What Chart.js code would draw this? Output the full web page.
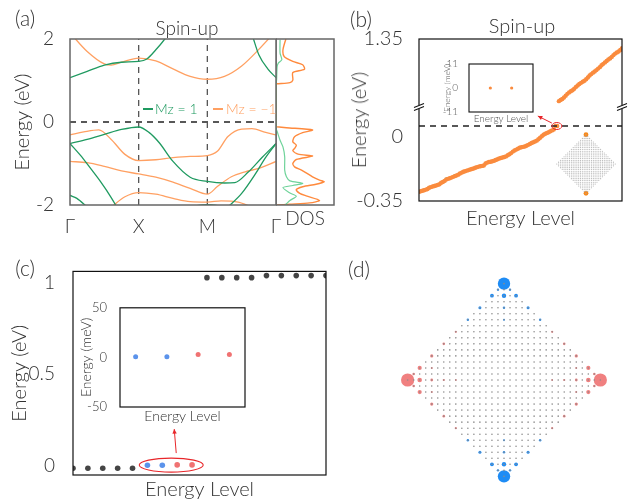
<!DOCTYPE html>
<html>
<head>
<meta charset="utf-8">
<script src="https://cdn.jsdelivr.net/npm/chart.js@4.4.1/dist/chart.umd.min.js"></script>
<style>
  body { margin: 0; background: #fff; }
  #fig { position: relative; width: 633px; height: 504px; overflow: hidden; font-family: Lato, "Noto Sans", sans-serif; font-weight: 300; color: #333; }
  .box { position: absolute; }
  .lbl { position: absolute; white-space: nowrap; line-height: 1; }
</style>
</head>
<body>
<div id="fig">
  <div class="box" style="left:0;top:0"><canvas id="cBand" width="290" height="235"></canvas></div>
  <div class="box" style="left:276px;top:0"><canvas id="cDos" width="62" height="235"></canvas></div>
  <div class="box" style="left:330px;top:0"><canvas id="cLevels" width="303" height="235"></canvas></div>
  <div class="box" style="left:440px;top:55px"><canvas id="cInsetB" width="100" height="75"></canvas></div>
  <div class="box" style="left:550px;top:128px"><canvas id="cFlakeB" width="72" height="72"></canvas></div>
  <div class="box" style="left:0;top:250px"><canvas id="cSpec" width="340" height="254"></canvas></div>
  <div class="box" style="left:70px;top:295px"><canvas id="cInsetC" width="180" height="130"></canvas></div>
  <div class="box" style="left:392px;top:268px"><canvas id="cFlake" width="224" height="224"></canvas></div>
</div>
<script>
// ---------- (a) bands along Γ-X-M-Γ, k in path units, energies in eV
const kTicks = [0, 1, 2, 3];
const kLabels = ['Γ', 'X', 'M', 'Γ'];

const greenBands = [
  [[0,1.07],[0.25,1.22],[0.5,1.37],[0.75,1.44],[1,1.46],[1.12,1.52],[1.25,1.74],[1.38,2.0],[1.5,2.3]],
  [[2.5,2.6],[2.63,2.2],[2.75,1.62],[2.88,1.28],[3,1.07]],
  [[0,-0.52],[0.25,-0.42],[0.5,-0.3],[0.75,-0.18],[1,-0.12],[1.15,-0.25],[1.3,-0.5],[1.5,-0.95],[1.75,-1.33],[2,-1.43],[2.25,-1.47],[2.4,-1.46],[2.6,-1.2],[2.8,-0.85],[3,-0.52]],
  [[0,-0.52],[0.15,-0.8],[0.3,-1.12],[0.45,-1.45],[0.6,-1.82],[0.7,-2.1]],
  [[2.3,-2.05],[2.5,-1.72],[2.7,-1.25],[2.85,-0.85],[3,-0.52]],
  [[0,-1.77],[0.1,-1.84],[0.25,-2.05]],
  [[1.75,-2.04],[2,-1.99],[2.25,-2.04]]
];
const orangeBands = [
  [[0,2.15],[0.25,1.7],[0.5,1.4],[0.6,1.37],[0.75,1.44],[1,1.54],[1.25,1.47],[1.5,1.28],[1.75,1.1],[2,1.03],[2.25,1.1],[2.5,1.35],[2.75,1.75],[3,2.2]],
  [[0,-0.31],[0.2,-0.24],[0.42,-0.19],[0.6,-0.42],[0.8,-0.78],[1,-0.93],[1.25,-0.91],[1.5,-0.86],[1.75,-0.83],[2,-0.81],[2.15,-0.7],[2.3,-0.35],[2.5,-0.17],[2.65,-0.16],[2.85,-0.25],[3,-0.31]],
  [[0,-0.95],[0.25,-0.98],[0.5,-1.07],[0.75,-1.18],[1,-1.25],[1.25,-1.33],[1.5,-1.45],[1.75,-1.6],[2,-1.74],[2.15,-1.55],[2.35,-1.32],[2.55,-1.2],[2.75,-1.12],[3,-0.95]],
  [[0.6,-2.05],[0.8,-1.8],[1,-1.7],[1.25,-1.74],[1.5,-1.84],[1.75,-1.92],[2,-1.93],[2.2,-1.9],[2.45,-1.93],[2.65,-2.05]]
];

// DOS as [energy, density] pairs (density in arbitrary units 0..1)
const dosOrange = [
  [2.0,0.17],[1.74,0.12],[1.58,0.14],[1.46,0.29],[1.38,0.46],[1.27,0.49],[1.19,0.29],[1.01,0.29],[0.95,0.24],[0.92,0.01],[0.91,0],
  [-0.11,0],[-0.113,0.01],[-0.137,0.18],[-0.193,0.63],[-0.258,0.46],[-0.355,0.32],[-0.476,0.29],[-0.556,0.35],[-0.637,0.32],
  [-0.693,0.29],[-0.774,0.38],[-0.822,0.63],[-0.903,0.35],[-1.0,0.29],[-1.08,0.32],[-1.16,0.44],[-1.32,0.63],[-1.4,0.75],
  [-1.44,0.83],[-1.5,0.69],[-1.56,0.46],[-1.63,0.35],[-1.72,0.41],[-1.78,0.52],[-1.89,0.75],[-1.95,0.58],[-1.98,0.24],[-2.0,0.01]
];
const dosGreen = [
  [1.98,0.07],[1.66,0.07],[1.5,0.1],[1.42,0.04],[1.34,0.02],[1.01,0.01],[0.89,0],
  [-0.15,0],[-0.23,0.02],[-0.44,0.07],[-0.6,0.12],[-0.84,0.15],[-1.16,0.15],[-1.32,0.18],[-1.42,0.24],
  [-1.48,0.46],[-1.53,0.29],[-1.58,0.12],[-1.71,0.24],[-1.79,0.35],[-1.89,0.24],[-1.97,0.18],[-2.01,0.15]
];

// ---------- (b) flake levels (index, eV), broken energy axis
const lowLevels = [
  -0.300,-0.297,-0.294,-0.291,-0.288,-0.284,-0.277,-0.274,-0.271,-0.268,
  -0.265,-0.262,-0.258,-0.250,-0.246,-0.240,-0.232,-0.229,-0.226,-0.222,
  -0.218,-0.214,-0.210,-0.206,-0.200,-0.195,-0.190,-0.187,-0.184,-0.181,
  -0.178,-0.175,-0.172,-0.168,-0.165,-0.162,-0.160,-0.158,-0.156,-0.145,
  -0.140,-0.137,-0.135,-0.133,-0.130,-0.126,-0.122,-0.118,-0.115,-0.112,
  -0.109,-0.106,-0.100,-0.094,-0.088,-0.080,-0.074,-0.069,-0.064,-0.059,
  -0.056,-0.054,-0.052,-0.048,-0.043,-0.038,-0.033,-0.029,-0.025,-0.020,
  -0.012,-0.004,0.004,0.012,0.018,0.022,0.026,0.031,0.036,0.041
];
const zeroModeIdx = [80, 81];
const fermiLevel = 0.06;
const highStart = 82;
const highLevels = [
  1.010,1.016,1.022,1.030,1.040,1.050,1.058,1.064,1.070,1.078,
  1.088,1.096,1.104,1.110,1.116,1.122,1.130,1.140,1.150,1.158,
  1.166,1.172,1.180,1.188,1.196,1.206,1.214,1.222,1.230,1.238,
  1.244,1.252,1.262,1.270,1.276,1.282,1.290,1.300
];
const greenLowIdx = [3, 6, 16, 21, 26, 36, 45];
const greenHighIdx = [100, 112];
const insetBX = [1, 2];
const insetBmeV = [0, 0];

// ---------- (c) levels of the second model
const cGrayIdx = [0, 1, 2, 3, 4, 9, 10, 11, 12, 13, 14, 15, 16, 17];
const cGrayE = [-0.012, -0.012, -0.012, -0.012, -0.012, 1.026, 1.026, 1.026, 1.026, 1.037, 1.037, 1.037, 1.037, 1.037];
const cBlueIdx = [5, 6];
const cBlueE = [0.004, 0.004];
const cRedIdx = [7, 8];
const cRedE = [0.006, 0.006];
const insetCBlueX = [0.5, 1.5];
const insetCBluemeV = [0.6, 0.6];
const insetCRedX = [2.5, 3.5];
const insetCRedmeV = [2.8, 2.8];

// ---------- (d) weights on the diamond flake: [col, row, radius]
const flakeHalf = 16;
const blueTop = [[0,16,6.2],[-1,15,1.2],[1,15,1.2],[-2,14,1.9],[0,14,2.2],[2,14,1.9],[-4,12,1.5],[0,12,1.2],[4,12,1.5],[-6,10,1.2],[6,10,1.2],[0,10,1]];
const redLeft = [[-16,0,6.6],[-15,-1,1.3],[-15,1,1.3],[-14,-2,2.1],[-14,0,2.3],[-14,2,2.1],[-12,-4,1.6],[-12,0,1.4],[-12,4,1.6],[-12,-2,1],[-12,2,1],[-10,-6,1.3],[-10,0,1.1],[-10,6,1.3],[-8,-8,1.1],[-8,0,0.9],[-8,8,1.1]];

const GREEN = '#1f9a60', ORANGE = '#ffa062';
const DOS_GREEN = '#6fd39a', DOS_ORANGE = '#ff8a3d';
const PT_ORANGE = '#fa8b3e', PT_GREEN = '#17905a';
const BLUE = '#5b93eb', RED = '#f07272', DARK = '#454545';

Chart.defaults.font.family = 'Lato, "Noto Sans", sans-serif';
Chart.defaults.font.weight = 300;
Chart.defaults.color = '#333';
Chart.defaults.animation = false;
Chart.defaults.plugins.legend.display = false;
Chart.defaults.plugins.tooltip.enabled = false;

const pts = arr => arr.map(([x, y]) => ({ x, y }));
const fixW = w => s => { s.width = w; };
const fixH = h => s => { s.height = h; };
const setTicks = vals => s => { s.ticks = vals.map(v => ({ value: v })); };
const plain = v => String(v);
const noGrid = { grid: { display: false }, border: { display: false } };

const line = (pairs, color, w = 1.3, smooth = 'monotone') => ({
  data: pts(pairs), showLine: true, borderColor: color, borderWidth: w, pointRadius: 0,
  cubicInterpolationMode: smooth === 'monotone' ? 'monotone' : 'default', tension: smooth === 'monotone' ? 0 : 0.25, clip: 0
});
const guide = (pairs, color, axis) => ({
  data: pts(pairs), showLine: true, borderColor: color, borderWidth: 1.3, borderDash: [6, 5],
  pointRadius: 0, clip: 0, yAxisID: axis || 'y'
});
const dots = (xs, ys, color, r, axis) => ({
  data: xs.map((x, i) => ({ x, y: ys[i] })), backgroundColor: color, borderWidth: 0,
  pointRadius: r, clip: 0, yAxisID: axis || 'y'
});

function frame(color, w) {
  return {
    id: 'frame',
    afterDatasetsDraw(c) {
      const a = c.chartArea, ctx = c.ctx;
      ctx.save();
      ctx.strokeStyle = color; ctx.lineWidth = w;
      ctx.strokeRect(a.left, a.top, a.right - a.left, a.bottom - a.top);
      ctx.restore();
    }
  };
}

function arrow(ctx, x0, y0, x1, y1, color) {
  const ang = Math.atan2(y1 - y0, x1 - x0);
  ctx.strokeStyle = color; ctx.fillStyle = color; ctx.lineWidth = 1;
  ctx.beginPath(); ctx.moveTo(x0, y0); ctx.lineTo(x1, y1); ctx.stroke();
  ctx.beginPath();
  ctx.moveTo(x1, y1);
  ctx.lineTo(x1 - 5 * Math.cos(ang - 0.45), y1 - 5 * Math.sin(ang - 0.45));
  ctx.lineTo(x1 - 5 * Math.cos(ang + 0.45), y1 - 5 * Math.sin(ang + 0.45));
  ctx.closePath(); ctx.fill();
}

// (a) band structure
new Chart(document.getElementById('cBand'), {
  type: 'scatter',
  data: {
    datasets: [
      ...greenBands.map(b => line(b, GREEN)),
      ...orangeBands.map(b => line(b, ORANGE)),
      guide([[1, -2], [1, 2]], '#555'),
      guide([[2, -2], [2, 2]], '#555'),
      guide([[0, 0], [3, 0]], '#222')
    ]
  },
  options: {
    responsive: false, devicePixelRatio: 1,
    layout: { padding: { top: 39, right: 14, left: 0, bottom: 0 } },
    scales: {
      x: {
        min: 0, max: 3, ...noGrid, afterBuildTicks: setTicks(kTicks), afterFit: fixH(30),
        ticks: { autoSkip: false, maxRotation: 0, padding: 2, font: { size: 19 }, callback: v => kLabels[kTicks.indexOf(v)] }
      },
      y: {
        min: -2, max: 2, ...noGrid, afterBuildTicks: setTicks([-2, 0, 2]), afterFit: fixW(70),
        ticks: { padding: 8, font: { size: 19 }, callback: plain },
        title: { display: true, text: 'Energy (eV)', font: { size: 20 }, padding: { top: 11, bottom: 0 } }
      }
    }
  },
  plugins: [frame('#666', 1.5)]
});

// (a) DOS
new Chart(document.getElementById('cDos'), {
  type: 'scatter',
  data: {
    datasets: [
      line(dosGreen.map(([e, d]) => [d, e]), DOS_GREEN, 1.2, 'bezier'),
      line(dosOrange.map(([e, d]) => [d, e]), DOS_ORANGE, 1.4, 'bezier')
    ]
  },
  options: {
    responsive: false, devicePixelRatio: 1,
    layout: { padding: { top: 39, right: 4, left: 0, bottom: 0 } },
    scales: {
      x: {
        min: 0, max: 1, ...noGrid, ticks: { display: false }, afterFit: fixH(30),
        title: { display: true, text: 'DOS', font: { size: 19 }, padding: { top: 0, bottom: 5 } }
      },
      y: { min: -2, max: 2, display: false }
    }
  },
  plugins: [frame('#666', 1.5)]
});

// (b) flake levels with a broken axis
const bLow = lowLevels.map((e, i) => [i, e]);
const bHigh = highLevels.map((e, i) => [highStart + i, e]);
new Chart(document.getElementById('cLevels'), {
  type: 'scatter',
  data: {
    datasets: [
      guide([[0, fermiLevel], [119, fermiLevel]], '#222', 'yLow'),
      dots(bLow.map(p => p[0]), bLow.map(p => p[1]), PT_ORANGE, 2.2, 'yLow'),
      dots(zeroModeIdx, zeroModeIdx.map(() => fermiLevel), PT_ORANGE, 2.2, 'yLow'),
      dots(bHigh.map(p => p[0]), bHigh.map(p => p[1]), PT_ORANGE, 2.2, 'yHigh'),
      dots(greenLowIdx, greenLowIdx.map(i => lowLevels[i]), PT_GREEN, 1.8, 'yLow'),
      dots(greenHighIdx, greenHighIdx.map(i => highLevels[i - highStart]), PT_GREEN, 1.8, 'yHigh')
    ]
  },
  options: {
    responsive: false, devicePixelRatio: 1,
    layout: { padding: { top: 39, right: 11, left: 0, bottom: 0 } },
    scales: {
      x: {
        min: 0, max: 119, ...noGrid, ticks: { display: false }, afterFit: fixH(34),
        title: { display: true, text: 'Energy Level', font: { size: 20 }, padding: { top: 0, bottom: 4 } }
      },
      yLow: {
        type: 'linear', axis: 'y', position: 'left', stack: 'e', stackWeight: 94,
        min: -0.35, max: 0.164, ...noGrid, afterBuildTicks: setTicks([-0.35, 0]), afterFit: fixW(89),
        ticks: { padding: 8, font: { size: 20 }, callback: plain }
      },
      yHigh: {
        type: 'linear', axis: 'y', position: 'left', stack: 'e', stackWeight: 68,
        min: 0.978, max: 1.35, ...noGrid, afterBuildTicks: setTicks([1.35]), afterFit: fixW(89),
        ticks: { padding: 8, font: { size: 20 }, callback: plain }
      }
    }
  },
  plugins: [frame('#111', 1.2), {
    id: 'marks',
    afterDraw(c) {
      const ctx = c.ctx, a = c.chartArea, yb = c.scales.yHigh.bottom;
      ctx.save();
      for (const x of [a.left, a.right]) {
        ctx.fillStyle = '#fff'; ctx.fillRect(x - 5, yb - 2, 10, 4);
        ctx.strokeStyle = '#111'; ctx.lineWidth = 1.1;
        ctx.beginPath();
        ctx.moveTo(x - 5, yb + 0.5); ctx.lineTo(x + 5, yb - 3.5);
        ctx.moveTo(x - 5, yb + 3.5); ctx.lineTo(x + 5, yb - 0.5);
        ctx.stroke();
      }
      const cx = c.scales.x.getPixelForValue(80.8), cy = c.scales.yLow.getPixelForValue(fermiLevel);
      ctx.strokeStyle = '#e8262a'; ctx.lineWidth = 1;
      ctx.beginPath(); ctx.ellipse(cx, cy, 5, 3.5, 0, 0, Math.PI * 2); ctx.stroke();
      arrow(ctx, cx - 5, cy - 3, cx - 19, cy - 10, '#e8262a');
      ctx.restore();
    }
  }]
});

// (b) inset
new Chart(document.getElementById('cInsetB'), {
  type: 'scatter',
  data: { datasets: [dots(insetBX, insetBmeV, PT_ORANGE, 1.6)] },
  options: {
    responsive: false, devicePixelRatio: 1,
    layout: { padding: { top: 7, right: 7, left: 0, bottom: 0 } },
    scales: {
      x: {
        min: 0, max: 3, ...noGrid, ticks: { display: false }, afterFit: fixH(18),
        title: { display: true, text: 'Energy Level', font: { size: 10 }, color: '#555', padding: { top: 0, bottom: 5 } }
      },
      y: {
        min: -11, max: 11, ...noGrid, afterBuildTicks: setTicks([-11, 0, 11]), afterFit: fixW(29),
        ticks: { padding: 3, font: { size: 10 }, color: '#555', callback: plain },
        title: { display: true, text: 'Energy (meV)', font: { size: 8.5 }, color: '#555', padding: { top: 2, bottom: 0 } }
      }
    }
  },
  plugins: [frame('#111', 1.1)]
});

// (b) small flake sketch
const flakeSites = [];
for (let j = -flakeHalf; j <= flakeHalf; j++) {
  for (let i = -flakeHalf; i <= flakeHalf; i++) {
    if (Math.abs(i) + Math.abs(j) <= flakeHalf) flakeSites.push([i, j]);
  }
}
new Chart(document.getElementById('cFlakeB'), {
  type: 'scatter',
  data: {
    datasets: [
      dots(flakeSites.map(s => s[0]), flakeSites.map(s => s[1]), '#b0b0b0', 0.55),
      dots([0, 0], [flakeHalf, -flakeHalf], '#f7891c', 2.4)
    ]
  },
  options: {
    responsive: false, devicePixelRatio: 1, layout: { padding: 0 },
    scales: { x: { min: -17.5, max: 17.5, display: false }, y: { min: -17.5, max: 17.5, display: false } }
  }
});

// (c) levels
new Chart(document.getElementById('cSpec'), {
  type: 'scatter',
  data: {
    datasets: [
      dots(cGrayIdx, cGrayE, DARK, 2.8),
      dots(cBlueIdx, cBlueE, BLUE, 2.8),
      dots(cRedIdx, cRedE, RED, 2.8)
    ]
  },
  options: {
    responsive: false, devicePixelRatio: 1,
    layout: { padding: { top: 21, right: 14, left: 0, bottom: 0 } },
    scales: {
      x: {
        min: 0, max: 17, ...noGrid, ticks: { display: false }, afterFit: fixH(29),
        title: { display: true, text: 'Energy Level', font: { size: 20 }, padding: { top: 0, bottom: 2 } }
      },
      y: {
        min: -0.049, max: 1.06, ...noGrid, afterBuildTicks: setTicks([0, 0.5, 1]), afterFit: fixW(73),
        ticks: { padding: 10, font: { size: 19 }, callback: plain },
        title: { display: true, text: 'Energy (eV)', font: { size: 20 }, padding: { top: 8, bottom: 0 } }
      }
    }
  },
  plugins: [frame('#111', 1.2), {
    id: 'mark',
    afterDraw(c) {
      const ctx = c.ctx;
      const cx = c.scales.x.getPixelForValue(6.6), cy = c.scales.y.getPixelForValue(0.005);
      ctx.save();
      ctx.strokeStyle = '#e8262a'; ctx.lineWidth = 1.1;
      ctx.beginPath(); ctx.ellipse(cx, cy, 32, 7, 0, 0, Math.PI * 2); ctx.stroke();
      arrow(ctx, cx + 5, cy - 12, cx + 3, cy - 36, '#e8262a');
      ctx.restore();
    }
  }]
});

// (c) inset
new Chart(document.getElementById('cInsetC'), {
  type: 'scatter',
  data: { datasets: [dots(insetCBlueX, insetCBluemeV, BLUE, 2.5), dots(insetCRedX, insetCRedmeV, RED, 2.5)] },
  options: {
    responsive: false, devicePixelRatio: 1,
    layout: { padding: { top: 12, right: 5, left: 0, bottom: 0 } },
    scales: {
      x: {
        min: 0, max: 4, ...noGrid, ticks: { display: false }, afterFit: fixH(18),
        title: { display: true, text: 'Energy Level', font: { size: 14 }, padding: { top: 0, bottom: 0 } }
      },
      y: {
        min: -50, max: 50, ...noGrid, afterBuildTicks: setTicks([-50, 0, 50]), afterFit: fixW(50),
        ticks: { padding: 5, font: { size: 13 }, callback: plain },
        title: { display: true, text: 'Energy (meV)', font: { size: 14 }, padding: { top: 8, bottom: 0 } }
      }
    }
  },
  plugins: [frame('#111', 1.2)]
});

// (d) weights on the flake
const blueSites = [...blueTop, ...blueTop.map(([i, j, r]) => [i, -j, r])];
const redSites = [...redLeft, ...redLeft.map(([i, j, r]) => [-i, j, r])];
new Chart(document.getElementById('cFlake'), {
  type: 'scatter',
  data: {
    datasets: [
      dots(flakeSites.map(s => s[0]), flakeSites.map(s => s[1]), '#8c8c8c', 0.8),
      { ...dots(blueSites.map(s => s[0]), blueSites.map(s => s[1]), '#1e8cf5', 1), pointRadius: blueSites.map(s => s[2]), clip: false },
      { ...dots(redSites.map(s => s[0]), redSites.map(s => s[1]), '#f08080', 1), pointRadius: redSites.map(s => s[2]), clip: false }
    ]
  },
  options: {
    responsive: false, devicePixelRatio: 1, layout: { padding: 0 },
    scales: { x: { min: -17.5, max: 17.5, display: false }, y: { min: -17.5, max: 17.5, display: false } }
  }
});

// text placed on the figure
const fig = document.getElementById('fig');
function label(text, x, y, size, opts = {}) {
  const d = document.createElement('div');
  d.className = 'lbl';
  d.textContent = text;
  d.style.left = x + 'px';
  d.style.top = y + 'px';
  d.style.fontSize = size + 'px';
  const tx = opts.left ? '0' : '-50%';
  d.style.transform = `translate(${tx},-50%)` + (opts.rotate ? ' rotate(-90deg)' : '');
  if (opts.color) d.style.color = opts.color;
  fig.appendChild(d);
}
function swatch(x, y, color) {
  const d = document.createElement('div');
  d.style.cssText = `position:absolute;left:${x}px;top:${y - 1}px;width:10px;height:2px;background:${color}`;
  fig.appendChild(d);
}
label('(a)', 25, 17, 21);
label('Spin-up', 187, 27, 19);
label('(b)', 361, 18, 21);
label('Spin-up', 522, 25, 20);
label('Energy (eV)', 358, 120, 20, { rotate: true });
label('(c)', 25, 267, 21);
label('(d)', 359, 268, 21);
swatch(143, 109, GREEN);
label('Mz = 1', 155, 109, 14, { left: true, color: GREEN });
swatch(213, 109, ORANGE);
label('Mz = −1', 226, 109, 14, { left: true, color: ORANGE });
</script>
</body>
</html>
